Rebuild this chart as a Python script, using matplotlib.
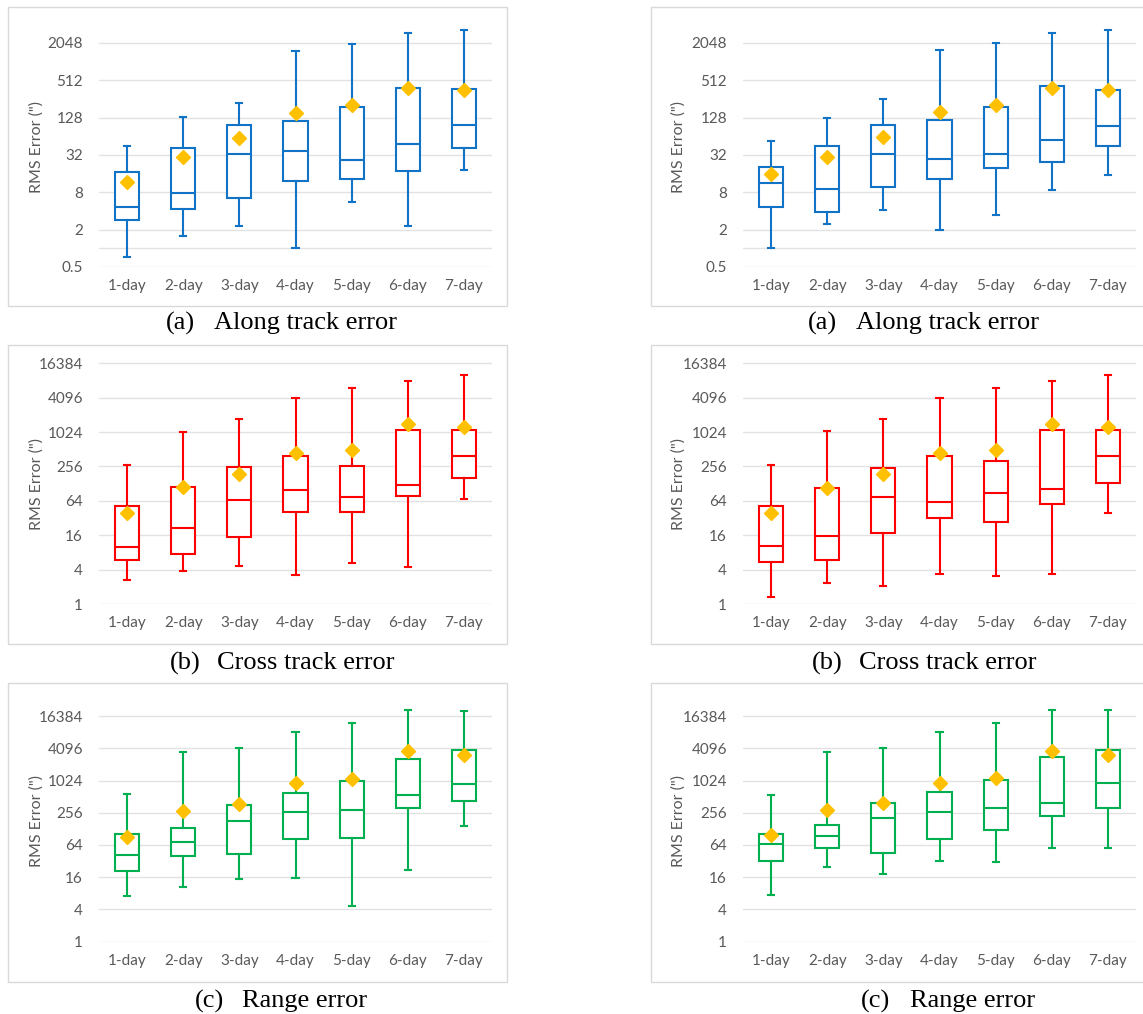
import matplotlib
matplotlib.use("Agg")
import matplotlib.pyplot as plt
from matplotlib.patches import Rectangle
from matplotlib.ticker import FixedLocator, NullLocator

W, H = 1143, 1014

categories = ["1-day", "2-day", "3-day", "4-day", "5-day", "6-day", "7-day"]

# ---- (a) Along track error, left ----
al_whislo = [0.72, 1.6, 2.3, 1.0, 5.5, 2.3, 18]
al_q1 = [2.9, 4.3, 6.5, 12, 13.3, 17.9, 42]
al_med = [4.6, 7.9, 33, 37.6, 27, 47.5, 96]
al_q3 = [16.8, 41, 99, 115, 187, 390, 367]
al_whishi = [45, 132, 218, 1520, 2000, 2940, 3320]
al_mean = [11.9, 30, 60, 154, 202, 380, 357]

# ---- (a) Along track error, right ----
ar_whislo = [1.03, 2.5, 4.2, 1.97, 3.4, 8.6, 15]
ar_q1 = [4.6, 3.9, 9.8, 13.3, 19.5, 25, 45]
ar_med = [11.3, 8.9, 33, 27.6, 33.6, 55, 93]
ar_q3 = [20.7, 45, 96, 117, 192, 415, 352]
ar_whishi = [54.6, 128, 256, 1560, 2070, 2940, 3320]
ar_mean = [15.8, 30, 62, 158, 208, 390, 362]

# ---- (b) Cross track error, left ----
cl_whislo = [2.6, 3.8, 4.7, 3.2, 5.3, 4.4, 68]
cl_q1 = [5.8, 7.6, 14.9, 40, 40, 77, 160]
cl_med = [9.9, 21.4, 65, 98, 73.5, 122, 385]
cl_q3 = [52.7, 111, 249, 396, 265, 1120, 1100]
cl_whishi = [272, 1040, 1710, 4100, 6000, 8050, 10370]
cl_mean = [39.7, 110, 190, 442, 505, 1400, 1250]

# ---- (b) Cross track error, right ----
cr_whislo = [1.3, 2.3, 2.1, 3.4, 3.1, 3.4, 38.6]
cr_q1 = [5.5, 5.8, 17.8, 32.5, 27.7, 56, 132]
cr_med = [10.3, 15.4, 75.6, 62, 86, 103, 396]
cr_q3 = [52.7, 108, 238, 385, 320, 1120, 1100]
cr_whishi = [272, 1070, 1710, 4096, 6000, 8050, 10370]
cr_mean = [39.7, 108, 190, 442, 505, 1400, 1250]

# ---- (c) Range error, left ----
rl_whislo = [7.2, 10.7, 14.9, 15.8, 4.6, 21.6, 143]
rl_q1 = [21, 40.5, 44, 84, 87, 310, 419]
rl_med = [42, 72, 177, 265, 288, 541, 885]
rl_q3 = [102, 131, 362, 608, 1024, 2580, 3750]
rl_whishi = [576, 3490, 4096, 8100, 12150, 20900, 20300]
rl_mean = [92, 276, 380, 910, 1110, 3590, 3100]

# ---- (c) Range error, right ----
rr_whislo = [7.4, 25, 18, 32, 30.5, 56.5, 56.5]
rr_q1 = [31.8, 57, 45.6, 83, 124, 223, 320]
rr_med = [68, 94, 208, 265, 320, 390, 910]
rr_q3 = [102, 153, 385, 626, 1060, 2820, 3750]
rr_whishi = [549, 3490, 4096, 8100, 12150, 20900, 20900]
rr_mean = [100, 292, 390, 910, 1160, 3590, 3100]

ticks_a = [0.5, 2, 8, 32, 128, 512, 2048]
tick_labels_a = ["0.5", "2", "8", "32", "128", "512", "2048"]
ticks_bc = [1, 4, 16, 64, 256, 1024, 4096, 16384]
tick_labels_bc = ["1", "4", "16", "64", "256", "1024", "4096", "16384"]

captions = ["(a)", "(b)", "(c)"]
caption_texts = ["Along track error", "Cross track error", "Range error"]

BLUE = "#1173C6"
RED = "#FF0000"
GREEN = "#00B050"
GOLD = "#FFC000"
GRID = "#E2E2E2"
FRAME = "#D9D9D9"
TXT = "#595959"

fig = plt.figure(figsize=(W / 100, H / 100), dpi=100)


def fx(x):
    return x / W


def fy(y):
    return 1 - y / H


rows = [
    dict(ft=7, fb=306, ab=267, at=20, lb=-1, ppu=18.67, cy=323, ty=147,
         ticks=ticks_a, labels=tick_labels_a, color=BLUE),
    dict(ft=345, fb=644, ab=604, at=355, lb=0, ppu=17.2, cy=663, ty=484,
         ticks=ticks_bc, labels=tick_labels_bc, color=RED),
    dict(ft=683, fb=982, ab=941.7, at=700, lb=0, ppu=16.12, cy=1001, ty=821,
         ticks=ticks_bc, labels=tick_labels_bc, color=GREEN),
]

cols = [
    dict(frame_l=8, frame_r=507, ax_l=99, ax_r=492, title_x=37),
    dict(frame_l=651, frame_r=1151, ax_l=743, ax_r=1136, title_x=679),
]

data = [
    [(al_whislo, al_q1, al_med, al_q3, al_whishi, al_mean),
     (ar_whislo, ar_q1, ar_med, ar_q3, ar_whishi, ar_mean)],
    [(cl_whislo, cl_q1, cl_med, cl_q3, cl_whishi, cl_mean),
     (cr_whislo, cr_q1, cr_med, cr_q3, cr_whishi, cr_mean)],
    [(rl_whislo, rl_q1, rl_med, rl_q3, rl_whishi, rl_mean),
     (rr_whislo, rr_q1, rr_med, rr_q3, rr_whishi, rr_mean)],
]

caption_pos = [
    [(166, 214.5), (808, 856.5)],
    [(170, 217), (812, 859)],
    [(195, 242.5), (861, 910)],
]

LW = 1.5
FS = 11
for r, row in enumerate(rows):
    for c, col in enumerate(cols):
        fig.patches.append(Rectangle((fx(col["frame_l"]), fy(row["fb"])),
                                     fx(col["frame_r"] - col["frame_l"]),
                                     (row["fb"] - row["ft"]) / H,
                                     transform=fig.transFigure, fill=False,
                                     edgecolor=FRAME, lw=1.0, zorder=0))
        ax = fig.add_axes([fx(col["ax_l"]), fy(row["ab"]),
                           fx(col["ax_r"] - col["ax_l"]),
                           (row["ab"] - row["at"]) / H])
        ax.set_yscale("log", base=2)
        top_log = row["lb"] + (row["ab"] - row["at"]) / row["ppu"]
        ax.set_ylim(2.0 ** row["lb"], 2.0 ** top_log)
        ax.set_xlim(0.5, 7.5)
        ax.patch.set_alpha(0)
        for s in ax.spines.values():
            s.set_visible(False)
        ax.yaxis.set_major_locator(FixedLocator(row["ticks"]))
        ax.set_yticklabels(row["labels"])
        ax.yaxis.set_minor_locator(NullLocator())
        ax.tick_params(axis="both", length=0, labelsize=FS, labelcolor=TXT)
        ax.tick_params(axis="y", pad=11.5)
        ax.tick_params(axis="x", pad=8.5)
        for t in row["ticks"]:
            ax.axhline(t, color=GRID, lw=1.0, zorder=0)
        if r == 0:
            ax.axhline(1, color=GRID, lw=1.0, zorder=0)

        wl, q1, md, q3, wh, mn = data[r][c]
        stats = []
        for i in range(len(categories)):
            stats.append(dict(whislo=wl[i], q1=q1[i], med=md[i], q3=q3[i],
                              whishi=wh[i], mean=mn[i], fliers=[]))
        color = row["color"]
        ax.bxp(stats, positions=range(1, 8), widths=0.43, showmeans=True,
               showfliers=False, patch_artist=True, capwidths=0.11,
               boxprops=dict(facecolor="white", edgecolor=color, lw=LW, zorder=2),
               whiskerprops=dict(color=color, lw=LW, zorder=2),
               capprops=dict(color=color, lw=LW, zorder=2),
               medianprops=dict(color=color, lw=LW, zorder=3),
               meanprops=dict(marker="D", markerfacecolor=GOLD,
                              markeredgecolor=GOLD, markersize=7, zorder=5))
        ax.set_xticks(range(1, 8))
        ax.set_xticklabels(categories, family="Lato", fontsize=FS, color=TXT)
        for lab in ax.get_yticklabels():
            lab.set_family("Lato")

        fig.text(fx(col["title_x"]), fy(row["ty"]), 'RMS Error (")',
                 rotation=90, ha="center", va="center", fontsize=11.5,
                 color=TXT, family="Lato")

        x1, x2 = caption_pos[r][c]
        fig.text(fx(x1), fy(row["cy"]), captions[r], ha="left", va="center",
                 fontsize=19, family="Liberation Serif", color="black")
        fig.text(fx(x2), fy(row["cy"]), caption_texts[r], ha="left",
                 va="center", fontsize=19, family="Liberation Serif",
                 color="black")

fig.savefig("out.png", dpi=100)
